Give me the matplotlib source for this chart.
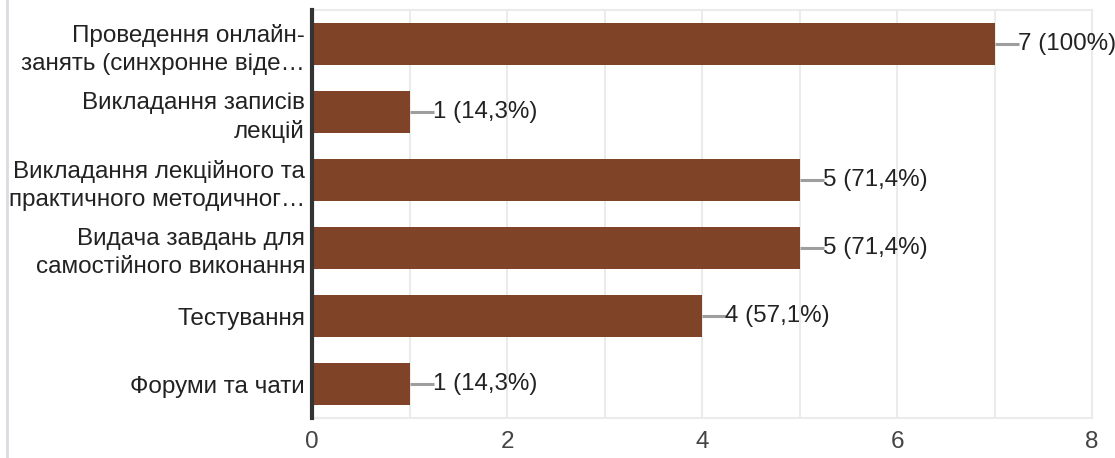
import matplotlib.pyplot as plt

plt.rcParams['font.family'] = ['Liberation Sans', 'DejaVu Sans']

categories = ["Проведення онлайн-\nзанять (синхронне віде…",
              "Викладання записів\nлекцій",
              "Викладання лекційного та\nпрактичного методичног…",
              "Видача завдань для\nсамостійного виконання",
              "Тестування",
              "Форуми та чати"]
values = [7, 1, 5, 5, 4, 1]
labels = ["7 (100%)", "1 (14,3%)", "5 (71,4%)", "5 (71,4%)", "4 (57,1%)", "1 (14,3%)"]

fig = plt.figure(figsize=(11.15, 4.58), dpi=100)
ax = fig.add_axes([312/1115, 1 - 418/458, (1092-312)/1115, 408/458])

y = list(range(len(categories)))
ax.barh(y, values, height=0.63, color='#7f4428', zorder=3)

for yi, v, lab in zip(y, values, labels):
    ax.plot([v, v + 0.25], [yi, yi], color='#9e9e9e', lw=2.2, zorder=4,
            solid_capstyle='butt')
    ax.text(v + 0.24, yi, lab, va='center', ha='left', fontsize=17.4,
            color='#222222', zorder=5)

ax.set_xlim(0, 8)
ax.set_ylim(5.5, -0.5)
ax.set_yticks(y)
ax.set_yticklabels(categories, fontsize=17.5, color='#222222',
                   linespacing=1.35)
ax.set_xticks([0, 2, 4, 6, 8])
ax.tick_params(axis='x', labelsize=17.5, colors='#444444', length=0, pad=9)
ax.tick_params(axis='y', length=0, pad=5)

for xv in range(0, 9):
    ax.axvline(xv, color='#ebebeb', lw=1.5, zorder=1)
for s in ['top', 'right', 'bottom']:
    ax.spines[s].set_color('#ebebeb')
    ax.spines[s].set_linewidth(1.5)
ax.spines['left'].set_color('#333333')
ax.spines['left'].set_linewidth(3)
ax.spines['left'].set_zorder(6)

fig.add_artist(plt.Line2D([7/1115, 7/1115], [0, 1], color='#dadce0', lw=2,
                          transform=fig.transFigure))

fig.savefig('out.png', dpi=100)
